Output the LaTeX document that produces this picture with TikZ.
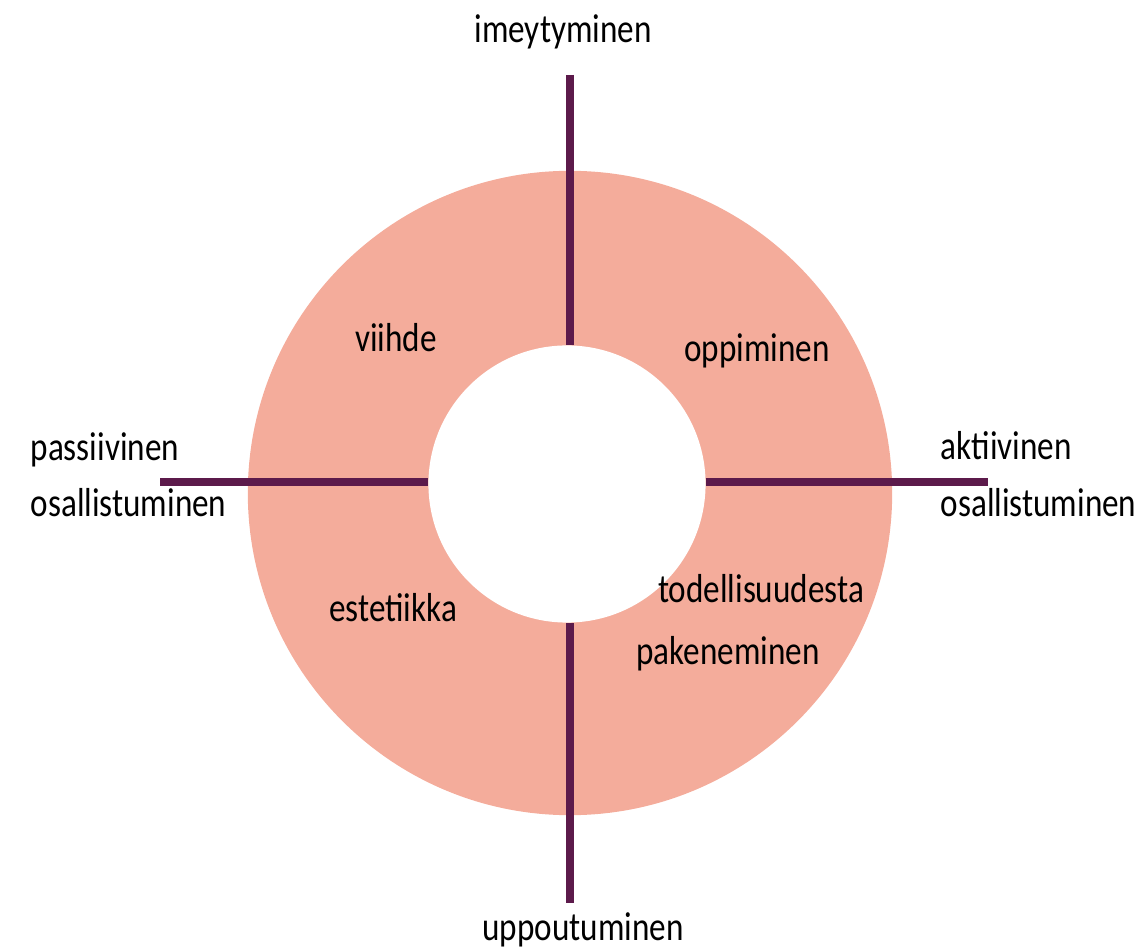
\documentclass[tikz,border=0pt]{standalone}
\usepackage{fontspec}
\setmainfont{Carlito}[FakeStretch=0.82]
\definecolor{ringsalmon}{HTML}{F4AC9B}
\definecolor{axisplum}{HTML}{5C1A4B}

\begin{document}
\begin{tikzpicture}[x=0.01cm, y=-0.01cm,
    ring/.style={circle, fill=ringsalmon, inner sep=0pt},
    hole/.style={circle, fill=white, inner sep=0pt},
    axis/.style={draw=axisplum, line width=0.08cm},
    lbl/.style={anchor=base, inner sep=0pt, font=\fontsize{11.5}{14}\selectfont},
    side/.style={lbl, anchor=base west}
]
    \useasboundingbox (0,0) rectangle (1142,949);

    % Ring
    \node[ring, minimum size=6.44cm] (outer) at (570,493) {};
    \node[hole, minimum size=2.77cm] (inner) at (567,484) {};

    % Axes
    \coordinate (topend) at (570,75);
    \coordinate (botend) at (570,903);
    \coordinate (leftend) at (160,482);
    \coordinate (rightend) at (988,482);
    \draw[axis] (topend) -- (inner.north -| topend);
    \draw[axis] (inner.south -| botend) -- (botend);
    \draw[axis] (leftend) -- (inner.west |- leftend);
    \draw[axis] (inner.east |- rightend) -- (rightend);

    % Axis labels
    \node[lbl] (imey) at (563,43) {imeytyminen};
    \node[lbl] (uppo) at (583,940) {uppoutuminen};
    \node[side] (pass) at (30,461) {passiivinen};
    \node[side] (osalL) at (30,517) {osallistuminen};
    \node[side] (akti) at (940,460) {aktiivinen};
    \node[side] (osalR) at (940,517) {osallistuminen};

    % Quadrants
    \node[lbl] (viihde) at (396,352) {viihde};
    \node[lbl] (oppi) at (757,362) {oppiminen};
    \node[lbl] (todel) at (761,603) {todellisuudesta};
    \node[lbl] (pake) at (728,665) {pakeneminen};
    \node[lbl] (este) at (393,622) {estetiikka};
\end{tikzpicture}
\end{document}
